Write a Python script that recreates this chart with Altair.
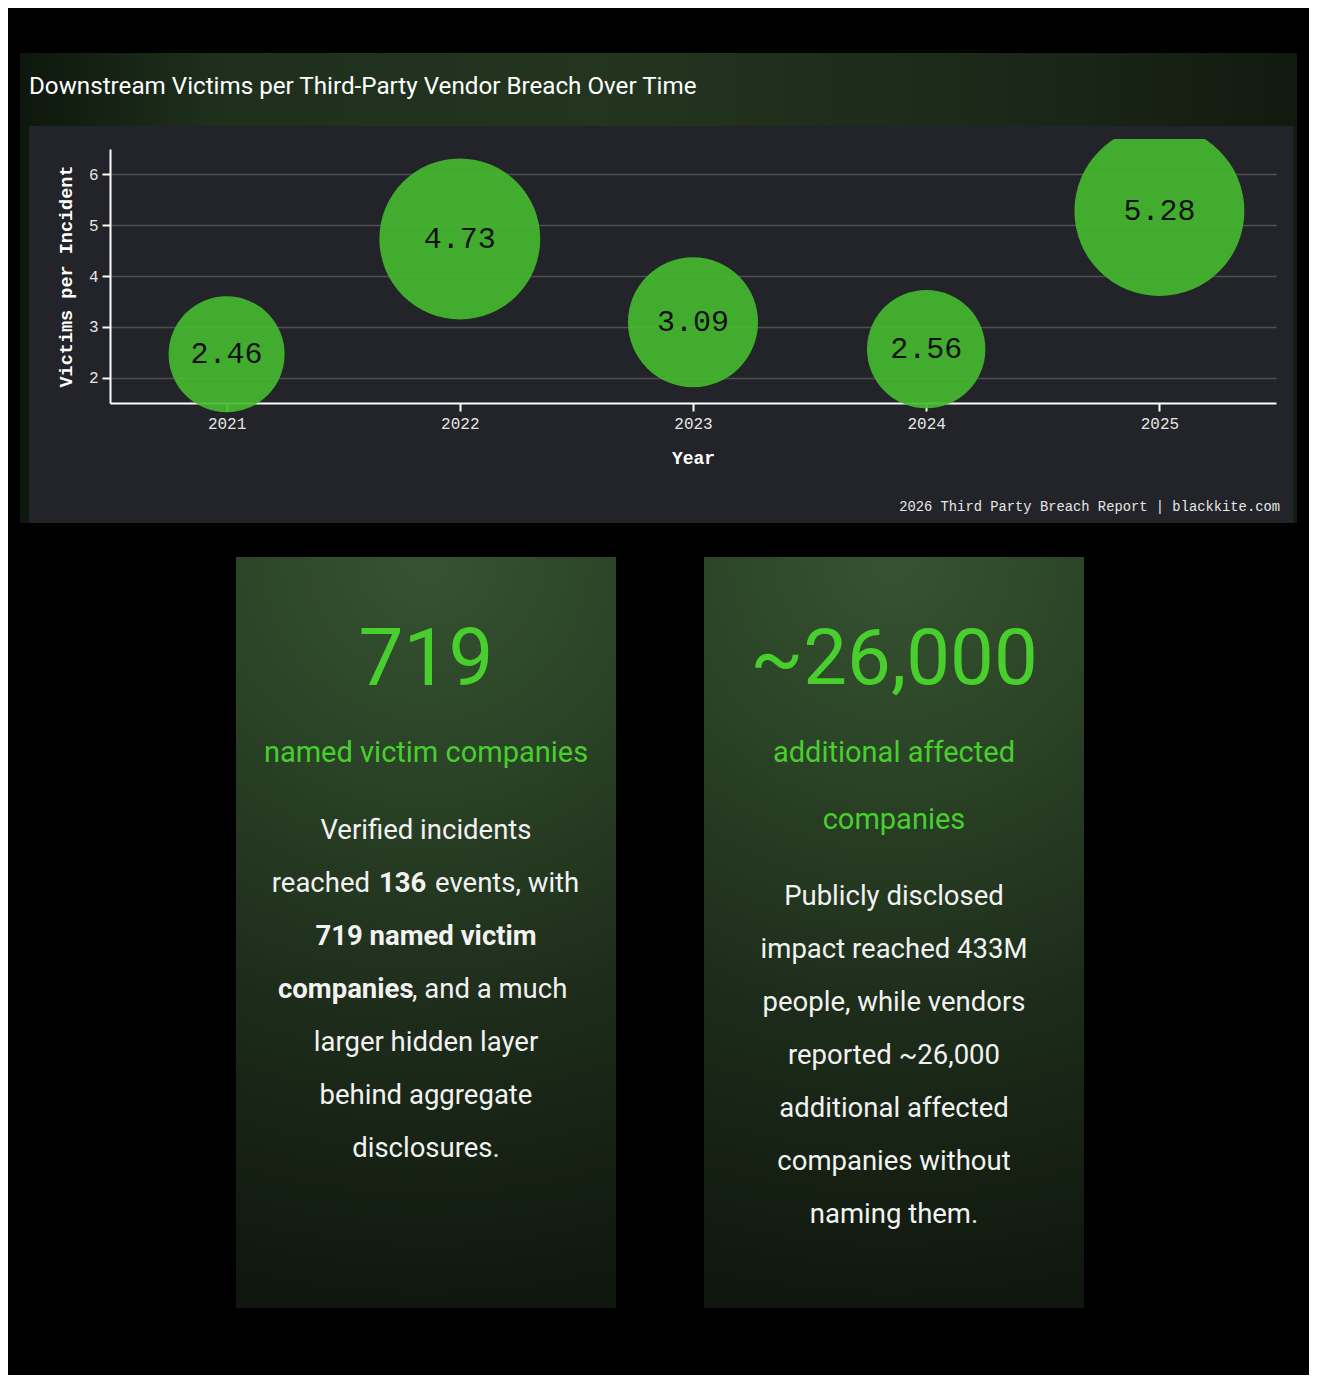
import altair as alt
import pandas as pd

# ---------------- data ----------------
years = ["2021", "2022", "2023", "2024", "2025"]
victims = [2.46, 4.73, 3.09, 2.56, 5.28]
y_ticks = [2, 3, 4, 5, 6]

title_text = "Downstream Victims per Third-Party Vendor Breach Over Time"
source_text = "2026 Third Party Breach Report | blackkite.com"
x_title = "Year"
y_title = "Victims per Incident"

card1_big = "719"
card1_sub = ["named victim companies"]
card2_big = "~26,000"
card2_sub = ["additional affected", "companies"]
card2_body = ["Publicly disclosed", "impact reached 433M", "people, while vendors",
              "reported ~26,000", "additional affected", "companies without", "naming them."]

# ---------------- styling ----------------
MONO = "Liberation Mono, DejaVu Sans Mono, monospace"
NARROW = "Roboto, Liberation Sans, sans-serif"
BODY = "Roboto, Open Sans, sans-serif"
GREEN_TXT = "#48cf2d"
BUBBLE = "#45b830"
WHITE = "#f2f2f2"
GRAY_BG = "#232429"

df = pd.DataFrame({"year": years, "victims": victims})


def rect(x1, x2, y1, y2, fill):
    return alt.Chart(pd.DataFrame({"k": [0]})).mark_rect(fill=fill, strokeWidth=0).encode(
        x=alt.value(x1), x2=alt.value(x2), y=alt.value(y1), y2=alt.value(y2))


def txt(s, x, y, size, font, color, weight="normal", align="center", baseline="middle"):
    return alt.Chart(pd.DataFrame({"t": [s]})).mark_text(
        font=font, fontSize=size, fontWeight=weight, color=color,
        align=align, baseline=baseline).encode(
        x=alt.value(x), y=alt.value(y), text="t:N")


# plot coordinates: page (px, py) -> (px-110, py-149)
layers = []
# black surroundings (svg background is the chart gray)
layers.append(rect(-102, 1199, -141, -96, "#000000"))
layers.append(rect(-102, 1199, 374, 1226, "#000000"))
layers.append(rect(-102, -90, -96, 374, "#000000"))
layers.append(rect(1187, 1199, -96, 374, "#000000"))
# green panel edges
layers.append(rect(-90, -81, -23, 374, "#0f180e"))
layers.append(rect(1183, 1187, -23, 374, "#121c10"))
# title band
band_grad = alt.Gradient(
    gradient="linear", x1=0, y1=0, x2=1, y2=0,
    stops=[alt.GradientStop(color="#0e170d", offset=0),
           alt.GradientStop(color="#1e2f1c", offset=0.15),
           alt.GradientStop(color="#23351f", offset=0.45),
           alt.GradientStop(color="#1b2819", offset=0.78),
           alt.GradientStop(color="#111a0f", offset=1)])
layers.append(rect(-90, 1187, -96, -23, band_grad))
layers.append(txt(title_text, -81, -55, 24.2, NARROW, "#ffffff", align="left", baseline="alphabetic"))

# bubbles + labels
xenc = alt.X("year:O", scale=alt.Scale(type="point", padding=0.5),
             axis=alt.Axis(title=x_title, labelAngle=0, labelFont=MONO, labelFontSize=16,
                           labelColor="#e6e6e6", titleFont=MONO, titleFontSize=18,
                           titleFontWeight="bold", titleColor="#ffffff", domainColor="#ffffff",
                           domainWidth=2, tickColor="#ffffff", tickSize=8, tickWidth=2,
                           gridColor="#4e4f53", gridWidth=1.5, labelPadding=4, titlePadding=18))
yenc = alt.Y("victims:Q", scale=alt.Scale(domain=[1.5, 6.5], nice=False, zero=False),
             axis=alt.Axis(title=y_title, values=y_ticks, labelFont=MONO, labelFontSize=16,
                           labelColor="#e6e6e6", titleFont=MONO, titleFontSize=18.5,
                           titleFontWeight="bold", titleColor="#ffffff", domainColor="#ffffff",
                           domainWidth=2, tickColor="#ffffff", tickSize=8, tickWidth=2,
                           gridColor="#4e4f53", gridWidth=1.5, labelPadding=4, titlePadding=13))
bubbles = alt.Chart(df).mark_circle(color=BUBBLE, opacity=0.92).encode(
    x=xenc, y=yenc,
    size=alt.Size("victims:Q", scale=alt.Scale(type="linear", domain=[0, 6], range=[0, 32832]),
                  legend=None))
labels = alt.Chart(df).mark_text(font=MONO, fontSize=30, color="#111111", baseline="middle").encode(
    x="year:O", y="victims:Q", text=alt.Text("victims:Q", format=".2f"))
layers.append(bubbles)
layers.append(labels)
# clip patch at top of chart area
layers.append(rect(-81, 1183, -23, -10, GRAY_BG))
layers.append(txt(source_text, 1170, 358, 13.8, MONO, "#e6e6e6", align="right"))

# cards
card_grad = alt.Gradient(
    gradient="radial", x1=0.5, y1=0, r1=0, x2=0.5, y2=0, r2=1,
    stops=[alt.GradientStop(color="#365331", offset=0),
           alt.GradientStop(color="#2a4226", offset=0.3),
           alt.GradientStop(color="#1d2c1a", offset=0.62),
           alt.GradientStop(color="#0f170e", offset=1)])
layers.append(rect(126, 506, 408, 1159, card_grad))
layers.append(rect(594, 974, 408, 1159, card_grad))

c1, c2 = 316, 784
BS = 27.5
layers.append(txt(card1_big, c1, 512, 80, NARROW, GREEN_TXT))
layers.append(txt(card1_sub[0], c1, 604, 29, NARROW, GREEN_TXT))
# card 1 body (mixed weights)
layers.append(txt("Verified incidents", c1, 682, BS, BODY, WHITE))
layers.append(txt("reached", 260, 735, BS, BODY, WHITE, align="right"))
layers.append(txt("136", 269, 735, BS, BODY, WHITE, weight="bold", align="left"))
layers.append(txt("events, with", 325, 735, BS, BODY, WHITE, align="left"))
layers.append(txt("719 named victim", c1, 788, BS, BODY, WHITE, weight="bold"))
layers.append(txt("companies", 168, 841, BS, BODY, WHITE, weight="bold", align="left"))
layers.append(txt(", and a much", 302, 841, BS, BODY, WHITE, align="left"))
layers.append(txt("larger hidden layer", c1, 894, BS, BODY, WHITE))
layers.append(txt("behind aggregate", c1, 947, BS, BODY, WHITE))
layers.append(txt("disclosures.", c1, 1000, BS, BODY, WHITE))

layers.append(txt(card2_big, c2, 512, 78, NARROW, GREEN_TXT))
layers.append(txt(card2_sub[0], c2, 604, 29, NARROW, GREEN_TXT))
layers.append(txt(card2_sub[1], c2, 671, 29, NARROW, GREEN_TXT))
for i, line in enumerate(card2_body):
    layers.append(txt(line, c2, 748 + 53 * i, BS, BODY, WHITE))

chart = alt.layer(*layers).properties(
    width=1166, height=254,
    padding={"left": 102, "top": 141, "right": 33, "bottom": 972},
    autosize=alt.AutoSizeParams(type="none"),
    background=GRAY_BG,
).configure_view(strokeWidth=0)

chart.save("out.html", embed_options={"renderer": "svg", "actions": False})
